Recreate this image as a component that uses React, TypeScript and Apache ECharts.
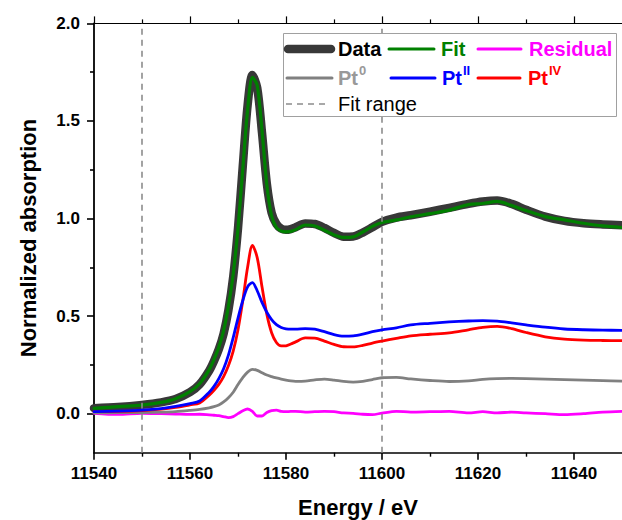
import React, { useEffect, useRef } from "react";
import * as echarts from "echarts";

const energy = [11540, 11545, 11550, 11554, 11557, 11560, 11562, 11564, 11565, 11566, 11567, 11568, 11569, 11570, 11571, 11572, 11573, 11574, 11575, 11576, 11577, 11578, 11579, 11580, 11581, 11582, 11584, 11586, 11588, 11590, 11592, 11594, 11596, 11598, 11600, 11603, 11606, 11610, 11614, 11618, 11621, 11624, 11627, 11630, 11634, 11638, 11642, 11646, 11650];

const dataAbs = [0.028, 0.034, 0.045, 0.058, 0.075, 0.11, 0.15, 0.22, 0.27, 0.33, 0.41, 0.53, 0.7, 0.95, 1.27, 1.58, 1.735, 1.67, 1.44, 1.18, 1.03, 0.972, 0.948, 0.942, 0.946, 0.955, 0.975, 0.972, 0.952, 0.926, 0.907, 0.908, 0.928, 0.955, 0.983, 1.005, 1.017, 1.035, 1.055, 1.075, 1.087, 1.092, 1.075, 1.045, 1.01, 0.988, 0.976, 0.97, 0.966];

const fitAbs = [0.027, 0.036, 0.044, 0.058, 0.077, 0.113, 0.153, 0.226, 0.278, 0.34, 0.425, 0.55, 0.715, 0.95, 1.255, 1.556, 1.723, 1.682, 1.452, 1.174, 1.014, 0.954, 0.936, 0.932, 0.934, 0.943, 0.967, 0.962, 0.94, 0.916, 0.903, 0.906, 0.931, 0.96, 0.98, 0.993, 1.009, 1.025, 1.043, 1.071, 1.077, 1.088, 1.067, 1.041, 1.01, 0.993, 0.976, 0.962, 0.954];

const residual = [0.002, -0.004, 0.002, 0.0, -0.002, -0.004, -0.003, -0.006, -0.008, -0.01, -0.015, -0.02, -0.015, 0.0, 0.015, 0.024, 0.012, -0.012, -0.012, 0.006, 0.016, 0.018, 0.012, 0.01, 0.012, 0.012, 0.008, 0.01, 0.012, 0.01, 0.004, 0.002, -0.003, -0.005, 0.003, 0.012, 0.008, 0.01, 0.012, 0.004, 0.01, 0.004, 0.008, 0.004, 0.0, -0.005, 0.0, 0.008, 0.012];

const pt0 = [0.004, 0.005, 0.006, 0.008, 0.011, 0.017, 0.022, 0.03, 0.036, 0.045, 0.06, 0.082, 0.11, 0.15, 0.185, 0.213, 0.227, 0.222, 0.21, 0.198, 0.19, 0.183, 0.177, 0.172, 0.168, 0.166, 0.167, 0.173, 0.177, 0.172, 0.165, 0.162, 0.166, 0.175, 0.184, 0.186, 0.178, 0.17, 0.165, 0.168, 0.176, 0.18, 0.181, 0.18, 0.177, 0.174, 0.172, 0.169, 0.167];

const pt2 = [0.01, 0.013, 0.018, 0.026, 0.037, 0.052, 0.065, 0.11, 0.14, 0.18, 0.23, 0.3, 0.39, 0.49, 0.58, 0.65, 0.672, 0.63, 0.57, 0.52, 0.482, 0.456, 0.442, 0.435, 0.433, 0.433, 0.436, 0.433, 0.42, 0.405, 0.397, 0.399, 0.408, 0.42, 0.43, 0.44, 0.455, 0.463, 0.47, 0.475, 0.477, 0.474, 0.465, 0.455, 0.443, 0.434, 0.43, 0.428, 0.427];

const pt4 = [0.01, 0.012, 0.016, 0.023, 0.032, 0.045, 0.055, 0.095, 0.12, 0.15, 0.19, 0.245, 0.32, 0.43, 0.58, 0.75, 0.862, 0.8, 0.65, 0.51, 0.415, 0.365, 0.347, 0.348, 0.357, 0.368, 0.388, 0.387, 0.372, 0.355, 0.343, 0.342, 0.35, 0.362, 0.372, 0.386, 0.399, 0.407, 0.414, 0.43, 0.442, 0.447, 0.436, 0.416, 0.394, 0.382, 0.377, 0.375, 0.374];

const fitRange = [11550, 11600];
const xMajorTicks = [11540, 11560, 11580, 11600, 11620, 11640];
const xMinorTicks = [11550, 11570, 11590, 11610, 11630];
const yMajorTicks = [0, 0.5, 1, 1.5, 2];
const yMinorTicks = [0.25, 0.75, 1.25, 1.75];

const FONT = "'Liberation Sans', Arial, Helvetica, sans-serif";
const X_MIN = 11540;
const X_MAX = 11650;
const Y_MIN = -0.2;
const Y_MAX = 2.0;

const pairs = (ys: number[]) => energy.map((e, i) => [e, ys[i]]);

export default function App() {
  const ref = useRef<HTMLDivElement>(null);

  useEffect(() => {
    document.body.style.margin = "0";
    if (!ref.current) return;
    const chart = echarts.init(ref.current, null, { renderer: "svg" });

    const lineSeries = (name: string, ys: number[], color: string, width: number, z: number, extra: any = {}) => ({
      name,
      type: "line",
      data: pairs(ys),
      xAxisIndex: 0,
      yAxisIndex: 0,
      showSymbol: false,
      symbol: "none",
      smooth: 0.3,
      z,
      lineStyle: { color, width, cap: "round", join: "round" },
      itemStyle: { color },
      ...extra,
    });

    const legendRow1 = 49;
    const legendRow2 = 78;
    const legendRow3 = 104;
    const lTxt = (x: number, y: number, text: string, color: string, weight = "bold") => ({
      type: "text",
      x,
      y,
      z: 101,
      style: {
        text,
        fill: color,
        font: `${weight} 20px ${FONT}`,
        verticalAlign: "middle",
        align: "left",
      },
    });
    const lSup = (x: number, y: number, main: string, sup: string, color: string) => ({
      type: "text",
      x,
      y,
      z: 101,
      style: {
        text: `{a|${main}}{b|${sup}}`,
        verticalAlign: "middle",
        align: "left",
        fill: color,
        rich: {
          a: { fontFamily: FONT, fontSize: 20, fontWeight: "bold", fill: color, lineHeight: 28 },
          b: { fontFamily: FONT, fontSize: 13, fontWeight: "bold", fill: color, verticalAlign: "top", padding: [0, 0, 0, 1] },
        },
      },
    });
    const lLine = (x1: number, x2: number, y: number, color: string, width: number, dash?: number[]) => ({
      type: "line",
      z: 101,
      shape: { x1, y1: y, x2, y2: y },
      style: { stroke: color, lineWidth: width, lineCap: dash ? "butt" : "round", lineDash: dash },
    });

    chart.setOption({
      animation: false,
      textStyle: { fontFamily: FONT },
      grid: { left: 94, right: 0, top: 23.4, bottom: 67.3, containLabel: false, outerBoundsMode: "none" },
      xAxis: [
        {
          type: "value",
          position: "bottom",
          min: X_MIN,
          max: X_MAX,
          name: "Energy / eV",
          nameLocation: "middle",
          nameGap: 44,
          nameTextStyle: { fontFamily: FONT, fontSize: 22, fontWeight: "bold", color: "#000" },
          axisLine: { show: true, onZero: false, lineStyle: { color: "#000", width: 1.6 } },
          axisTick: { show: true, inside: false, length: 7, customValues: xMajorTicks, lineStyle: { color: "#000", width: 1.6 } },
          axisLabel: { show: true, customValues: xMajorTicks, margin: 12, fontFamily: FONT, fontSize: 17, fontWeight: "bold", color: "#000", formatter: (v: number) => String(v) },
          splitLine: { show: false },
        },
        {
          type: "value",
          position: "top",
          min: X_MIN,
          max: X_MAX,
          axisLine: { show: true, onZero: false, lineStyle: { color: "#000", width: 1 } },
          axisTick: { show: true, inside: false, length: 7, customValues: xMajorTicks, lineStyle: { color: "#000", width: 1.2 } },
          axisLabel: { show: false },
          splitLine: { show: false },
        },
        {
          type: "value",
          position: "bottom",
          min: X_MIN,
          max: X_MAX,
          axisLine: { show: false, onZero: false },
          axisTick: { show: true, inside: false, length: 4, customValues: xMinorTicks, lineStyle: { color: "#000", width: 1.4 } },
          axisLabel: { show: false },
          splitLine: { show: false },
        },
        {
          type: "value",
          position: "top",
          min: X_MIN,
          max: X_MAX,
          axisLine: { show: false, onZero: false },
          axisTick: { show: true, inside: false, length: 4, customValues: xMinorTicks, lineStyle: { color: "#000", width: 1.2 } },
          axisLabel: { show: false },
          splitLine: { show: false },
        },
      ],
      yAxis: [
        {
          type: "value",
          position: "left",
          min: Y_MIN,
          max: Y_MAX,
          name: "Normalized absorption",
          nameLocation: "middle",
          nameGap: 55,
          nameTextStyle: { fontFamily: FONT, fontSize: 22, fontWeight: "bold", color: "#000" },
          axisLine: { show: true, onZero: false, lineStyle: { color: "#000", width: 1.8 } },
          axisTick: { show: true, inside: false, length: 7, customValues: yMajorTicks, lineStyle: { color: "#000", width: 1.6 } },
          axisLabel: { show: true, customValues: yMajorTicks, margin: 14, fontFamily: FONT, fontSize: 17, fontWeight: "bold", color: "#000", formatter: (v: number) => v.toFixed(1) },
          splitLine: { show: false },
        },
        {
          type: "value",
          position: "left",
          offset: 0,
          min: Y_MIN,
          max: Y_MAX,
          axisLine: { show: false, onZero: false },
          axisTick: { show: true, inside: false, length: 4, customValues: yMinorTicks, lineStyle: { color: "#000", width: 1.6 } },
          axisLabel: { show: false },
          splitLine: { show: false },
        },
      ],
      series: [
        lineSeries("Data", dataAbs, "#383838", 8.5, 2, {
          markLine: {
            silent: true,
            symbol: ["none", "none"],
            label: { show: false },
            lineStyle: { type: [6, 5], color: "#8c8c8c", width: 1.6 },
            data: fitRange.map((v) => ({ xAxis: v })),
          },
        }),
        lineSeries("Fit", fitAbs, "#008000", 3.2, 3),
        lineSeries("Residual", residual, "#ff00ff", 2.8, 4),
        lineSeries("Pt0", pt0, "#808080", 2.8, 5),
        lineSeries("PtIV", pt4, "#ff0000", 2.8, 6),
        lineSeries("PtII", pt2, "#0000ff", 2.8, 7),
      ],
      graphic: [
        {
          type: "rect",
          z: 100,
          shape: { x: 283.5, y: 33.5, width: 333, height: 83 },
          style: { fill: "#ffffff", stroke: "#a0a0a0", lineWidth: 1 },
        },
        lLine(288, 331, legendRow1, "#383838", 8.5),
        lTxt(338, legendRow1, "Data", "#000000"),
        lLine(389, 434, legendRow1, "#008000", 3),
        lTxt(441, legendRow1, "Fit", "#008000"),
        lLine(478, 521, legendRow1, "#ff00ff", 3),
        lTxt(529, legendRow1, "Residual", "#ff00ff"),
        lLine(287, 332, legendRow2, "#808080", 3),
        lSup(338, legendRow2, "Pt", "0", "#999999"),
        lLine(391, 435, legendRow2, "#0000ff", 3),
        lSup(442, legendRow2, "Pt", "II", "#0000ff"),
        lLine(478, 520, legendRow2, "#ff0000", 3),
        lSup(528, legendRow2, "Pt", "IV", "#ff0000"),
        lLine(286, 327, legendRow3, "#8c8c8c", 1.5, [6, 5]),
        lTxt(338, legendRow3, "Fit range", "#000000", "normal"),
      ],
    });

    return () => chart.dispose();
  }, []);

  return <div ref={ref} style={{ width: 622, height: 520 }} />;
}
